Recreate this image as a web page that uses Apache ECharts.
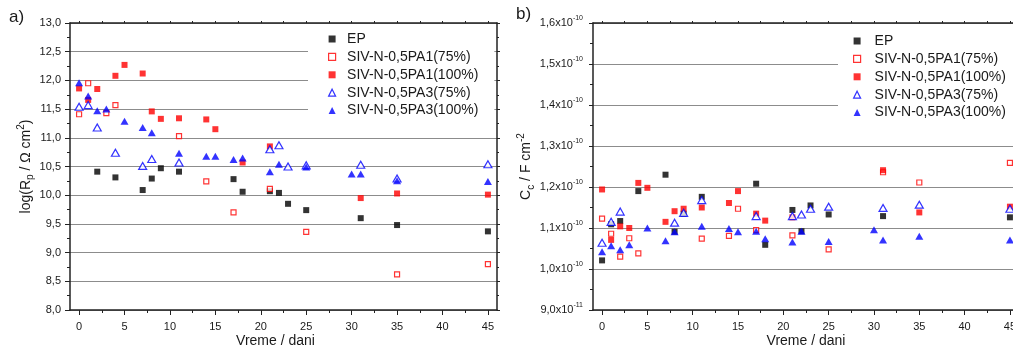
<!DOCTYPE html>
<html><head><meta charset="utf-8">
<script src="https://cdn.jsdelivr.net/npm/echarts@6/dist/echarts.min.js"></script>
<style>html,body{margin:0;padding:0;background:#fff}#c{width:1013px;height:350px}</style>
</head><body><div id="c"></div>
<script>
// ---------- data ----------
const seriesNames = ['EP', 'SIV-N-0,5PA1(75%)', 'SIV-N-0,5PA1(100%)', 'SIV-N-0,5PA3(75%)', 'SIV-N-0,5PA3(100%)'];
const xTicks = [0, 5, 10, 15, 20, 25, 30, 35, 40, 45];
const xMinorTicks = [2.5, 7.5, 12.5, 17.5, 22.5, 27.5, 32.5, 37.5, 42.5];
const xTopTicks = [0, 2.5, 5, 7.5, 10, 12.5, 15, 17.5, 20, 22.5, 25, 27.5, 30, 32.5, 35, 37.5, 40, 42.5, 45];
const yTickLabelsA = ['8,0', '8,5', '9,0', '9,5', '10,0', '10,5', '11,0', '11,5', '12,0', '12,5', '13,0'];
const yTickMantissaB = ['9,0', '1,0', '1,1', '1,2', '1,3', '1,4', '1,5', '1,6'];
const yTickExponentB = ['-11', '-10', '-10', '-10', '-10', '-10', '-10', '-10'];

// panel a: log(Rp / Ohm cm2) vs days
const epDaysA = [2, 4, 7, 8, 9, 11, 17, 18, 21, 22, 23, 25, 31, 35, 45];
const epValsA = [10.41, 10.31, 10.09, 10.29, 10.47, 10.41, 10.28, 10.06, 10.07, 10.04, 9.85, 9.74, 9.60, 9.48, 9.37];
const pa1_75DaysA = [0, 1, 3, 4, 11, 14, 17, 21, 25, 35, 45];
const pa1_75ValsA = [11.41, 11.95, 11.43, 11.57, 11.03, 10.24, 9.70, 10.11, 9.36, 8.62, 8.80];
const pa1_100DaysA = [0, 1, 2, 4, 5, 7, 8, 9, 11, 14, 15, 18, 21, 31, 35, 45];
const pa1_100ValsA = [11.86, 11.66, 11.85, 12.08, 12.27, 12.12, 11.46, 11.33, 11.34, 11.32, 11.15, 10.57, 10.85, 9.95, 10.03, 10.01];
const pa3_75DaysA = [0, 1, 2, 4, 7, 8, 11, 21, 22, 23, 25, 31, 35, 45];
const pa3_75ValsA = [11.54, 11.57, 11.18, 10.74, 10.51, 10.63, 10.57, 10.80, 10.87, 10.50, 10.52, 10.53, 10.29, 10.54];
const pa3_100DaysA = [0, 1, 2, 3, 5, 7, 8, 11, 14, 15, 17, 18, 21, 22, 25, 30, 31, 35, 45];
const pa3_100ValsA = [11.96, 11.73, 11.47, 11.50, 11.29, 11.18, 11.09, 10.73, 10.68, 10.68, 10.62, 10.65, 10.41, 10.54, 10.49, 10.37, 10.37, 10.25, 10.24];

// panel b: Cc (in units of 1e-10 F cm-2) vs days
const epDaysB = [0, 1, 2, 4, 7, 8, 9, 11, 17, 18, 21, 22, 23, 25, 31, 45];
const epValsB = [1.021, 1.109, 1.117, 1.190, 1.230, 1.091, 1.135, 1.176, 1.208, 1.059, 1.144, 1.092, 1.155, 1.133, 1.129, 1.126];
const pa1_75DaysB = [0, 1, 2, 3, 4, 11, 14, 15, 17, 21, 25, 31, 35, 45];
const pa1_75ValsB = [1.123, 1.086, 1.030, 1.075, 1.038, 1.074, 1.081, 1.147, 1.095, 1.082, 1.048, 1.236, 1.211, 1.259];
const pa1_100DaysB = [0, 1, 2, 3, 4, 5, 7, 8, 9, 11, 14, 15, 17, 18, 21, 31, 35, 45];
const pa1_100ValsB = [1.194, 1.071, 1.104, 1.100, 1.210, 1.198, 1.115, 1.141, 1.147, 1.150, 1.161, 1.190, 1.135, 1.118, 1.126, 1.241, 1.138, 1.152];
const pa3_75DaysB = [0, 1, 2, 8, 9, 11, 17, 21, 22, 23, 25, 31, 35, 45];
const pa3_75ValsB = [1.064, 1.115, 1.140, 1.113, 1.137, 1.168, 1.129, 1.129, 1.133, 1.147, 1.152, 1.149, 1.157, 1.147];
const pa3_100DaysB = [0, 1, 2, 3, 5, 7, 8, 11, 14, 15, 17, 18, 21, 22, 25, 30, 31, 35, 45];
const pa3_100ValsB = [1.042, 1.057, 1.047, 1.059, 1.100, 1.069, 1.091, 1.104, 1.099, 1.091, 1.092, 1.074, 1.066, 1.092, 1.067, 1.096, 1.071, 1.080, 1.071];

// ---------- chart ----------
const FONT = 'Liberation Sans, Arial, sans-serif';
const AX = '#222';
const GRIDC = '#8c8c8c';
const zip = (xs, ys) => xs.map((x, i) => [x, ys[i]]);

const styles = [
  { symbol: 'rect', symbolSize: 6, itemStyle: { color: '#000' } },
  { symbol: 'rect', symbolSize: 5, itemStyle: { color: '#fff', borderColor: '#ff0000', borderWidth: 1.2 } },
  { symbol: 'rect', symbolSize: 6, itemStyle: { color: '#ff0000' } },
  { symbol: 'triangle', symbolSize: [8, 7], itemStyle: { color: '#fff', borderColor: '#0000ff', borderWidth: 1.2 } },
  { symbol: 'triangle', symbolSize: [8, 7], itemStyle: { color: '#0000ff' } }
];
const dataA = [zip(epDaysA, epValsA), zip(pa1_75DaysA, pa1_75ValsA), zip(pa1_100DaysA, pa1_100ValsA), zip(pa3_75DaysA, pa3_75ValsA), zip(pa3_100DaysA, pa3_100ValsA)];
const dataB = [zip(epDaysB, epValsB), zip(pa1_75DaysB, pa1_75ValsB), zip(pa1_100DaysB, pa1_100ValsB), zip(pa3_75DaysB, pa3_75ValsB), zip(pa3_100DaysB, pa3_100ValsB)];

function mkSeries(data, xi, yi) {
  return data.map((d, i) => Object.assign({
    type: 'scatter', name: seriesNames[i], data: d, xAxisIndex: xi, yAxisIndex: yi,
    emphasis: { disabled: true }, silent: true, animation: false, z: 3
  }, styles[i]));
}

function xAxesFor(g, namePad) {
  return [
    { gridIndex: g, type: 'value', min: -1, max: 46, position: 'bottom',
      axisLine: { onZero: false, lineStyle: { color: AX, width: 1.5 } },
      axisTick: { customValues: xTicks, length: 5, lineStyle: { color: AX, width: 1 } },
      axisLabel: { customValues: xTicks, fontSize: 11, color: '#1a1a1a', fontFamily: FONT, margin: 11 },
      splitLine: { show: false },
      name: 'Vreme / dani', nameLocation: 'middle', nameGap: 24, nameMoveOverlap: false,
      nameTextStyle: { fontSize: 14, color: '#1a1a1a', fontFamily: FONT, padding: namePad } },
    { gridIndex: g, type: 'value', min: -1, max: 46, position: 'bottom',
      axisLine: { show: false },
      axisTick: { customValues: xMinorTicks, length: 3, lineStyle: { color: AX, width: 1 } },
      axisLabel: { show: false }, splitLine: { show: false } },
    { gridIndex: g, type: 'value', min: -1, max: 46, position: 'top',
      axisLine: { onZero: false, lineStyle: { color: AX, width: 1.5 } },
      axisTick: { customValues: xTopTicks, length: 2, lineStyle: { color: AX, width: 1 } },
      axisLabel: { show: false }, splitLine: { show: false } }
  ];
}

const option = {
  animation: false,
  backgroundColor: '#fff',
  textStyle: { fontFamily: FONT },
  grid: [
    { left: 70, top: 23, width: 427, height: 287, containLabel: false, outerBoundsMode: 'none' },
    { left: 593, top: 23, width: 426, height: 287, containLabel: false, outerBoundsMode: 'none' }
  ],
  xAxis: [].concat(xAxesFor(0, [0, 16, 0, 0]), xAxesFor(1, [0, 0, 0, 0])),
  yAxis: [
    { gridIndex: 0, type: 'value', min: 8, max: 13, interval: 0.5, position: 'left',
      axisLine: { show: true, onZero: false, lineStyle: { color: AX, width: 1.5 } },
      axisTick: { show: true, length: 5, lineStyle: { color: AX, width: 1 } },
      minorTick: { show: true, splitNumber: 2, length: 3, lineStyle: { color: AX, width: 1 } },
      splitLine: { show: true, lineStyle: { color: GRIDC, width: 1 } },
      axisLabel: { fontSize: 11, color: '#1a1a1a', fontFamily: FONT, margin: 9,
        formatter: v => yTickLabelsA[Math.round((v - 8) / 0.5)] },
      name: '{n|log(R}{sub|p}{n| / Ω cm}{sup|2}{n|)}', nameLocation: 'middle', nameRotate: 90, nameGap: 27,
      nameTextStyle: { fontSize: 14, color: '#1a1a1a', fontFamily: FONT,
        rich: {
          n: { fontSize: 14, fontFamily: FONT, color: '#1a1a1a', verticalAlign: 'middle' },
          sub: { fontSize: 10, fontFamily: FONT, color: '#1a1a1a', verticalAlign: 'middle', padding: [9, 0, 0, 0] },
          sup: { fontSize: 10, fontFamily: FONT, color: '#1a1a1a', verticalAlign: 'middle', padding: [0, 0, 10, 0] }
        } } },
    { gridIndex: 0, type: 'value', min: 8, max: 13, interval: 0.5, position: 'right',
      axisLine: { show: true, onZero: false, lineStyle: { color: AX, width: 1.5 } },
      axisTick: { show: true, length: 3, lineStyle: { color: AX, width: 1 } },
      minorTick: { show: true, splitNumber: 2, length: 2, lineStyle: { color: AX, width: 1 } },
      splitLine: { show: false }, axisLabel: { show: false } },
    { gridIndex: 1, type: 'value', min: 0.9, max: 1.6, interval: 0.1, position: 'left',
      axisLine: { show: true, onZero: false, lineStyle: { color: AX, width: 1.5 } },
      axisTick: { show: true, length: 4, lineStyle: { color: AX, width: 1 } },
      minorTick: { show: true, splitNumber: 2, length: 3, lineStyle: { color: AX, width: 1 } },
      splitLine: { show: true, lineStyle: { color: GRIDC, width: 1 } },
      axisLabel: { margin: 10, color: '#1a1a1a', fontFamily: FONT,
        formatter: v => { const i = Math.round((v - 0.9) / 0.1); return '{m|' + yTickMantissaB[i] + 'x10}{e|' + yTickExponentB[i] + '}'; },
        rich: {
          m: { fontSize: 11, fontFamily: FONT, color: '#1a1a1a', verticalAlign: 'middle' },
          e: { fontSize: 7, fontFamily: FONT, color: '#1a1a1a', verticalAlign: 'middle', padding: [0, 0, 9, 0] }
        } },
      name: '{n|C}{sub|c}{n| / F cm}{sup|-2}', nameLocation: 'middle', nameRotate: 90, nameGap: 47,
      nameTextStyle: { fontSize: 14, color: '#1a1a1a', fontFamily: FONT,
        rich: {
          n: { fontSize: 14, fontFamily: FONT, color: '#1a1a1a', verticalAlign: 'middle' },
          sub: { fontSize: 10, fontFamily: FONT, color: '#1a1a1a', verticalAlign: 'middle', padding: [9, 0, 0, 0] },
          sup: { fontSize: 10, fontFamily: FONT, color: '#1a1a1a', verticalAlign: 'middle', padding: [0, 0, 10, 0] }
        } } },
    { gridIndex: 1, type: 'value', min: 0.9, max: 1.6, interval: 0.1, position: 'right',
      axisLine: { show: true, onZero: false, lineStyle: { color: AX, width: 1.5 } },
      axisTick: { show: true, length: 3, lineStyle: { color: AX, width: 1 } },
      minorTick: { show: true, splitNumber: 2, length: 2, lineStyle: { color: AX, width: 1 } },
      splitLine: { show: false }, axisLabel: { show: false } }
  ],
  legend: [
    { left: 308, top: 25, orient: 'vertical', backgroundColor: '#fff', padding: [6, 16, 8, 20],
      itemWidth: 7, itemHeight: 7, itemGap: 1.9, selectedMode: false, z: 10,
      itemStyle: { borderWidth: 1.2 },
      textStyle: { fontSize: 14, color: '#1a1a1a', fontFamily: FONT, lineHeight: 16, padding: [0, 0, 0, 6.5] },
      data: seriesNames },
    { left: 838, top: 25, orient: 'vertical', backgroundColor: '#fff', padding: [8, 16, 10, 15],
      itemWidth: 7, itemHeight: 7, itemGap: 1.9, selectedMode: false, z: 10,
      itemStyle: { borderWidth: 1.2 },
      textStyle: { fontSize: 14, color: '#1a1a1a', fontFamily: FONT, lineHeight: 16, padding: [0, 0, 0, 9] },
      data: seriesNames }
  ],
  graphic: [
    { type: 'text', left: 9, top: 9, style: { text: 'a)', fontSize: 17, fontFamily: FONT, fill: '#1a1a1a' } },
    { type: 'text', left: 516, top: 6, style: { text: 'b)', fontSize: 17, fontFamily: FONT, fill: '#1a1a1a' } }
  ],
  series: [].concat(mkSeries(dataA, 0, 0), mkSeries(dataB, 3, 2))
};

const chart = echarts.init(document.getElementById('c'), null, { renderer: 'canvas' });
chart.setOption(option);
</script>
</body></html>
